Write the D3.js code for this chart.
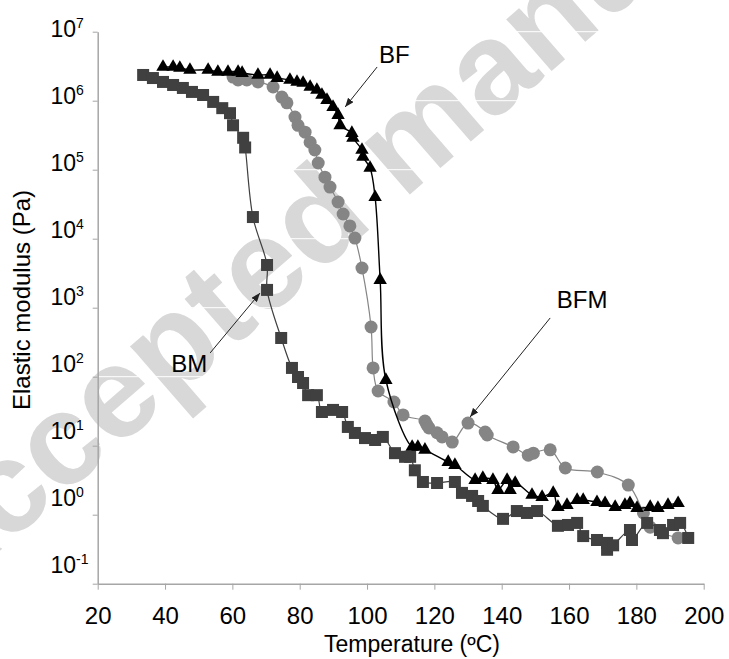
<!DOCTYPE html>
<html>
<head>
<meta charset="utf-8">
<script src="https://cdn.jsdelivr.net/npm/d3@7"></script>
<style>
body { margin: 0; background: #fff; }
svg { display: block; font-family: Arial, "Liberation Sans", sans-serif; }
</style>
</head>
<body>
<svg width="729" height="659"></svg>
<script>
// values: temperature (ºC) and elastic modulus (Pa)
var bmTemp = [33.5,36.4,39.4,42.4,45.3,48.0,51.3,54.3,57.0,59.3,60.2,63.2,63.8,66.1,70.3,70.3,74.5,77.7,79.5,81.0,
  82.5,85.1,86.6,89.9,92.6,94.3,96.4,99.4,102.4,104.7,108.3,111.3,112.8,114.2,116.6,120.8,126.1,128.2,131.2,133.0,
  134.4,140.4,144.5,147.5,150.5,156.7,159.7,162.4,164.2,168.3,171.3,171.3,173.1,178.1,178.7,183.2,187.0,187.9,190.9,193.0,195.4];
var bmMod = [2.36e6,2.13e6,1.87e6,1.69e6,1.53e6,1.34e6,1.21e6,9.6e5,7.8e5,6.6e5,4.4e5,2.9e5,2.1e5,2.06e4,4.16e3,
  1.81e3,364,134,99,81,54,54,30.8,33,30.8,18.7,15.3,12.9,12.1,13.4,7.8,6.9,6.9,4.4,2.98,2.88,2.98,2.07,1.87,1.58,
  1.34,0.87,1.13,1.06,1.13,0.69,0.71,0.76,0.49,0.43,0.39,0.31,0.36,0.60,0.43,0.76,0.60,0.54,0.71,0.76,0.46];

var bfTemp = [39.4,42.4,44.4,47.4,52.8,55.7,58.7,61.7,62.9,67.6,71.2,73.3,77.1,79.2,81.0,83.1,85.1,86.6,88.1,89.9,
  91.4,92.0,95.5,95.8,98.5,98.8,100.9,102.4,103.9,105.6,113.4,115.1,117.2,124.1,126.1,132.1,134.4,137.4,138.9,141.6,
  142.5,144.0,149.0,152.0,155.3,156.7,159.4,162.4,164.2,168.3,170.7,173.7,176.6,178.1,180.2,184.1,186.4,189.4,192.4];
var bfMod = [3.08e6,3.08e6,2.98e6,2.79e6,2.79e6,2.61e6,2.61e6,2.61e6,2.52e6,2.36e6,2.36e6,2.13e6,2.0e6,1.87e6,1.81e6,
  1.58e6,1.43e6,1.21e6,1.02e6,8.1e5,6.2e5,4.4e5,3.4e5,2.9e5,1.93e5,1.53e5,1.06e5,4.0e4,2.52e3,89.5,
  9.6,9.6,8.7,5.8,5.25,3.18,3.40,3.18,2.28,3.18,2.28,2.88,1.93,1.80,2.06,1.29,1.38,1.63,1.63,1.52,
  1.47,1.29,1.38,1.47,1.25,1.29,1.25,1.38,1.47];

var bfmTemp = [60.2,61.7,64.3,67.6,72.1,74.7,76.2,78.6,79.5,81.6,83.1,84.5,85.5,87.5,89.0,91.4,92.9,94.9,96.4,98.5,
  101.2,101.8,103.3,108.0,110.7,117.2,117.8,118.4,120.8,122.3,125.3,130.0,135.1,135.7,143.4,147.9,149.4,154.4,158.9,168.4,
  177.6,182.1,184.1,192.4];
var bfmMod = [2.2e6,2.0e6,2.0e6,1.87e6,1.58e6,1.13e6,9.3e5,5.8e5,4.4e5,3.5e5,2.5e5,1.93e5,1.25e5,7.8e4,5.6e4,
  3.4e4,2.28e4,1.53e4,1.02e4,3.76e3,525,134,62,43,27.9,22.8,20,18.1,15.4,13.4,11.3,21.3,15.8,14.3,9.6,
  7.3,7.8,8.7,4.75,4.16,2.69,1.06,0.66,0.46];

var xTicks = [20,40,60,80,100,120,140,160,180,200];
var yExp = [-1,0,1,2,3,4,5,6,7];

// callouts (data units)
var annoText = ["BF", "BFM", "BM"];
var annoAt = [[108.1, 4.75e6], [163.9, 1.3e3], [47.2, 158]];
var arrowFrom = [[103.0, 3.08e6], [154.4, 710], [53.4, 221]];
var arrowTo = [[93.5, 8.1e5], [130.6, 26], [68.2, 1.63e3]];

var svg = d3.select("svg"),
    axisColor = "#a6a6a6";

var x = d3.scaleLinear().domain([20, 200]).range([97.7, 703.7]);
var y = d3.scaleLog().domain([0.1, 1e7]).range([583.7, 31.7]);
var yTicks = yExp.map(function(e) { return Math.pow(10, e); });

function zip(t, m) { return t.map(function(d, i) { return [d, m[i]]; }); }

// watermark
svg.append("text")
    .attr("transform", "translate(-66,608) rotate(-41)")
    .attr("font-size", 130)
    .attr("font-weight", "bold")
    .attr("fill", "#d8d8d8")
    .text("Accepted manuscript");

// white gridlines (only show over the watermark)
svg.append("g").selectAll("line").data(yTicks).join("line")
    .attr("x1", x(20)).attr("x2", x(200))
    .attr("y1", function(d) { return y(d); })
    .attr("y2", function(d) { return y(d); })
    .attr("stroke", "#fff");

// y axis
var gy = svg.append("g")
    .attr("transform", "translate(" + x(20) + ",0)")
    .style("color", axisColor)
    .call(d3.axisLeft(y).tickValues(yTicks).tickSize(5).tickSizeOuter(0).tickFormat(""));
gy.select(".domain").attr("stroke-width", 1.5);
gy.selectAll(".tick text").each(function(d, i) {
  var k = Math.round(Math.log10(d));
  var t = d3.select(this)
      .attr("x", 50.5 - x(20))
      .attr("y", -(2.7 + 2 * (7 - k)))
      .attr("text-anchor", "start")
      .attr("fill", "#000")
      .attr("font-size", 23);
  t.append("tspan").text("10");
  t.append("tspan").attr("dy", -9).attr("font-size", 14).text(k);
});

// x axis
var gx = svg.append("g")
    .attr("transform", "translate(0," + y(0.1) + ")")
    .style("color", axisColor)
    .call(d3.axisBottom(x).tickValues(xTicks).tickSize(6).tickPadding(17).tickSizeOuter(0));
gx.select(".domain").attr("stroke-width", 1.5);
gx.selectAll(".tick text").attr("fill", "#000").attr("font-size", 24);

svg.append("text")
    .attr("x", 412).attr("y", 652)
    .attr("text-anchor", "middle")
    .attr("font-size", 23)
    .text("Temperature (ºC)");

svg.append("text")
    .attr("transform", "translate(30,300) rotate(-90)")
    .attr("text-anchor", "middle")
    .attr("font-size", 24)
    .text("Elastic modulus (Pa)");

var line = d3.line()
    .x(function(d) { return x(d[0]); })
    .y(function(d) { return y(d[1]); })
    .curve(d3.curveCatmullRom.alpha(0.5));

// BFM - gray circles
var bfm = zip(bfmTemp, bfmMod);
svg.append("path").datum(bfm)
    .attr("fill", "none").attr("stroke", "#858585").attr("stroke-width", 1.2)
    .attr("d", line);
svg.append("g").selectAll("circle").data(bfm).join("circle")
    .attr("cx", function(d) { return x(d[0]); })
    .attr("cy", function(d) { return y(d[1]); })
    .attr("r", 6.5)
    .attr("fill", "#858585");

// BM - dark squares
var bm = zip(bmTemp, bmMod);
svg.append("path").datum(bm)
    .attr("fill", "none").attr("stroke", "#404040").attr("stroke-width", 1.2)
    .attr("d", line);
svg.append("g").selectAll("rect").data(bm).join("rect")
    .attr("x", function(d) { return x(d[0]) - 6; })
    .attr("y", function(d) { return y(d[1]) - 6; })
    .attr("width", 12).attr("height", 12)
    .attr("fill", "#404040");

// BF - black triangles
var bf = zip(bfTemp, bfMod);
svg.append("path").datum(bf)
    .attr("fill", "none").attr("stroke", "#000").attr("stroke-width", 1.4)
    .attr("d", line);
svg.append("g").selectAll("path").data(bf).join("path")
    .attr("transform", function(d) { return "translate(" + x(d[0]) + "," + y(d[1]) + ")"; })
    .attr("d", d3.symbol(d3.symbolTriangle, 78))
    .attr("fill", "#000");

// callouts
svg.append("defs").append("marker")
    .attr("id", "head")
    .attr("markerUnits", "userSpaceOnUse")
    .attr("markerWidth", 9).attr("markerHeight", 7)
    .attr("refX", 9).attr("refY", 3.5)
    .attr("orient", "auto")
  .append("path")
    .attr("d", "M0,0L9,3.5L0,7Z")
    .attr("fill", "#222");

svg.append("g").selectAll("line").data(arrowFrom).join("line")
    .attr("x1", function(d) { return x(d[0]); })
    .attr("y1", function(d) { return y(d[1]); })
    .attr("x2", function(d, i) { return x(arrowTo[i][0]); })
    .attr("y2", function(d, i) { return y(arrowTo[i][1]); })
    .attr("stroke", "#222").attr("stroke-width", 1)
    .attr("marker-end", "url(#head)");

svg.append("g").selectAll("text").data(annoText).join("text")
    .attr("x", function(d, i) { return x(annoAt[i][0]); })
    .attr("y", function(d, i) { return y(annoAt[i][1]); })
    .attr("dy", "0.36em")
    .attr("text-anchor", "middle")
    .attr("font-size", 24)
    .text(function(d) { return d; });
</script>
</body>
</html>
